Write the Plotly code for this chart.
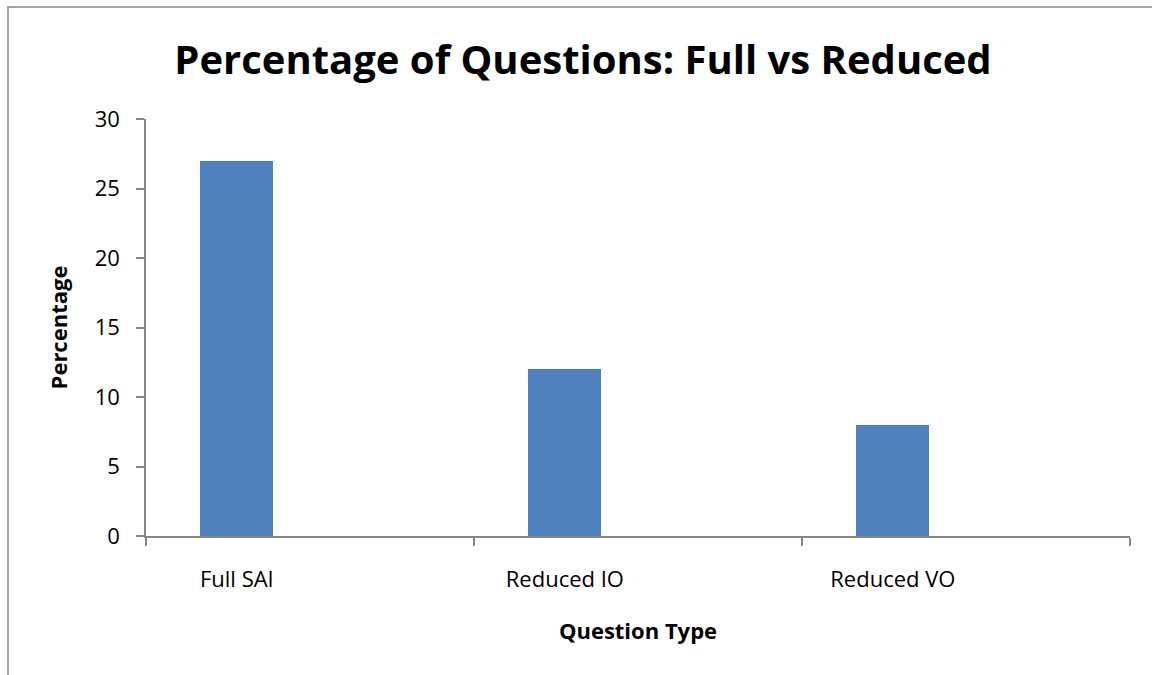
import plotly.graph_objects as go

categories = ["Full SAI", "Reduced IO", "Reduced VO"]
values = [27, 12, 8]
y_ticks = [0, 5, 10, 15, 20, 25, 30]

FONT = "Open Sans"
GRAY = "#868686"

fig = go.Figure()
fig.add_trace(go.Bar(
    x=list(range(len(categories))),
    y=values,
    width=0.223,
    marker=dict(color="#4F81BD", line=dict(width=0)),
    showlegend=False,
))

fig.update_layout(
    width=1152, height=675,
    margin=dict(l=146, r=22, t=119, b=139),
    paper_bgcolor="white", plot_bgcolor="white",
    title=dict(text="<b>Percentage of Questions: Full vs Reduced</b>",
               x=(583 - 146) / 984, xref="paper", xanchor="center",
               y=1 - 60 / 675, yanchor="middle",
               font=dict(family=FONT, size=40, color="black")),
    font=dict(family=FONT, color="black"),
    bargap=0,
)

fig.update_xaxes(
    range=[-0.277, 2.723],
    tickvals=list(range(len(categories))),
    ticktext=categories,
    ticks="", ticklen=0,
    tickfont=dict(family=FONT, size=22, color="black"),
    ticklabelstandoff=23,
    showline=True, linecolor=GRAY, linewidth=1.5,
    showgrid=False, zeroline=False,
    minor=dict(ticks="outside", tick0=-0.277, dtick=1, ticklen=8,
               tickcolor=GRAY, tickwidth=1.5, showgrid=False),
    title=dict(text="<b>Question Type</b>", standoff=31,
               font=dict(family=FONT, size=22, color="black")),
)

fig.update_yaxes(
    range=[0, 30],
    tickvals=y_ticks,
    ticks="outside", ticklen=8, tickcolor=GRAY, tickwidth=1.5,
    tickfont=dict(family=FONT, size=22, color="black"),
    ticklabelstandoff=12,
    showline=True, linecolor=GRAY, linewidth=1.5,
    showgrid=False, zeroline=False,
    title=dict(text="<b>Percentage</b>", standoff=21,
               font=dict(family=FONT, size=22, color="black")),
)

# outer chart border (partially cropped in the reference)
fig.add_shape(type="rect", xref="paper", yref="paper",
              x0=(8 - 146) / 984, x1=(1165 - 146) / 984,
              y0=(536 - 690) / 417, y1=(536 - 7) / 417,
              line=dict(color=GRAY, width=1.5), layer="below")

fig.write_html("out.html")
